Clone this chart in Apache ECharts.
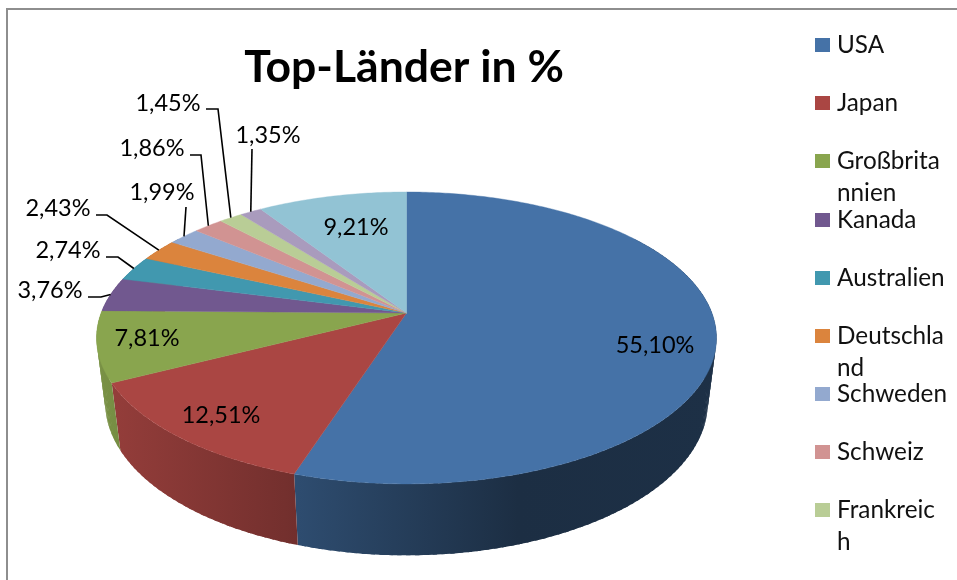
<!DOCTYPE html>
<html><head><meta charset="utf-8">
<style>html,body{margin:0;padding:0;background:#fff}#c{width:957px;height:580px}</style>
<script src="https://cdn.jsdelivr.net/npm/echarts@6/dist/echarts.min.js"></script>
</head><body><div id="c"></div>
<script>
const titleText = 'Top-Länder in %';
const countries = ['USA','Japan','Großbritannien','Kanada','Australien','Deutschland','Schweden','Schweiz','Frankreich','Belgien','Sonstige'];
const shares = [55.10,12.51,7.81,3.76,2.74,2.43,1.99,1.86,1.45,1.35,9.21];
const colors = ['#4572A7','#AA4643','#89A54E','#71588F','#4198AF','#DB843D','#93A9CF','#D19392','#B9CD96','#A99BBD','#92C3D4'];
const legendLabels = ['USA','Japan','Großbrita\nnnien','Kanada','Australien','Deutschla\nnd','Schweden','Schweiz','Frankreic\nh'];

// projection of the tilted disc
const CX=406.5, CY=313, R=305.4, S=141.7, K=0.171, M=0.028, T=66;
function proj(theta,h){
  const u=Math.sin(theta), v=-Math.cos(theta), w=1-K*v+M*h;
  return [CX+R*u/w, CY+(S*v+T*h)/w];
}
const total=shares.reduce((a,b)=>a+b,0);
const FONT='Lato';
// label anchor & leader elbows, per slice index
const labelPos=[[655,345],[221,415],[147,338],[50,290],[68,250],[58,208],[162,192],[152,148],[168,103],[268,135],[356,227]];
const leaders=[null,null,null,[[88,297],[101,297]],[[106,257],[118,257]],[[96,215],[107,215]],[[186,207]],[[190,155],[201,155]],[[206,109],[218,109]],[[252,149]],null];

function shade(hex,f){
  const n=parseInt(hex.slice(1),16);
  const c=[n>>16&255,n>>8&255,n&255].map(x=>Math.round(x*f));
  return 'rgb('+c.join(',')+')';
}
// brightness of the side wall from left to right
function wallGrad(hex){
  return {type:'linear',global:true,x:100,y:0,x2:715,y2:0,colorStops:[
    {offset:0,color:shade(hex,0.88)},
    {offset:0.3,color:shade(hex,0.68)},
    {offset:0.68,color:shade(hex,0.40)},
    {offset:1,color:shade(hex,0.42)}]};
}
const WALL_MIN=55*Math.PI/180, WALL_MAX=305*Math.PI/180;

function makeRender(i){
  const before=shares.slice(0,i).reduce((a,b)=>a+b,0);
  return function(params,api){
    const val=api.value(0);
    const a0=before/total*2*Math.PI, a1=(before+val)/total*2*Math.PI;
    const children=[];
    // top face
    const top=[[CX,CY]];
    const n=Math.max(6,Math.ceil((a1-a0)*80));
    for(let k=0;k<=n;k++) top.push(proj(a0+(a1-a0)*k/n,0));
    // wall, as overlapping strips so that the silhouette at the sides is filled and no seams show
    const w0=Math.max(a0,WALL_MIN), w1=Math.min(a1,WALL_MAX);
    if(w1>w0){
      const m=Math.max(4,Math.ceil((w1-w0)*40));
      const g=wallGrad(colors[i]);
      for(let k=0;k<m;k++){
        const t0=w0+(w1-w0)*k/m, t1=w0+(w1-w0)*Math.min(m,k+1.5)/m;
        const up=[],dn=[];
        for(let j=0;j<=3;j++){const t=t0+(t1-t0)*j/3; up.push(proj(t,0)); dn.unshift(proj(t,1));}
        children.push({type:'polygon',z2:1,shape:{points:up.concat(dn)},style:{fill:g}});
      }
    }
    children.push({type:'polygon',z2:2,shape:{points:top},style:{fill:colors[i],stroke:colors[i],lineWidth:0.4}});
    // leader line
    if(leaders[i]){
      const mid=(a0+a1)/2;
      children.push({type:'polyline',z2:3,shape:{points:leaders[i].concat([proj(mid,0)])},style:{fill:null,stroke:'#000',lineWidth:1.6}});
    }
    children.push({type:'text',z2:4,style:{text:val.toFixed(2).replace('.',',')+'%',x:labelPos[i][0],y:labelPos[i][1],align:'center',verticalAlign:'middle',font:'23.5px '+FONT,fill:'#000'}});
    return {type:'group',children};
  };
}

const legendCenters=[45,103,161,220,278,336,394,452,510];
const LH=32;
const legends=legendLabels.map((txt,i)=>{
  const wrapped=txt.includes('\n');
  return {
    data:[countries[i]],orient:'vertical',left:815,top:legendCenters[i]-(wrapped?LH*1.5:LH/2),
    padding:0,itemWidth:15,itemHeight:14,icon:'rect',selectedMode:false,
    formatter:()=>wrapped?'\u00a0\n'+txt:txt,
    textStyle:{fontFamily:FONT,fontSize:24.3,color:'#111',lineHeight:LH,padding:[0,0,0,2]}
  };
});

const chart=echarts.init(document.getElementById('c'),null,{renderer:'canvas'});
chart.setOption({
  animation:false,
  backgroundColor:'#fff',
  title:{text:titleText,left:404,top:68,textAlign:'center',textVerticalAlign:'middle',padding:0,
    textStyle:{fontFamily:FONT,fontWeight:'bold',fontSize:44.5,color:'#000'}},
  legend:legends,
  graphic:[{type:'polyline',shape:{points:[[7,580],[7,9],[957,9]]},style:{fill:null,stroke:'#8e8e8e',lineWidth:2}}],
  series:countries.map((name,i)=>({
    type:'custom',name,coordinateSystem:'none',silent:true,
    itemStyle:{color:colors[i]},
    data:[[shares[i]]],
    renderItem:makeRender(i)
  }))
});
</script></body></html>
